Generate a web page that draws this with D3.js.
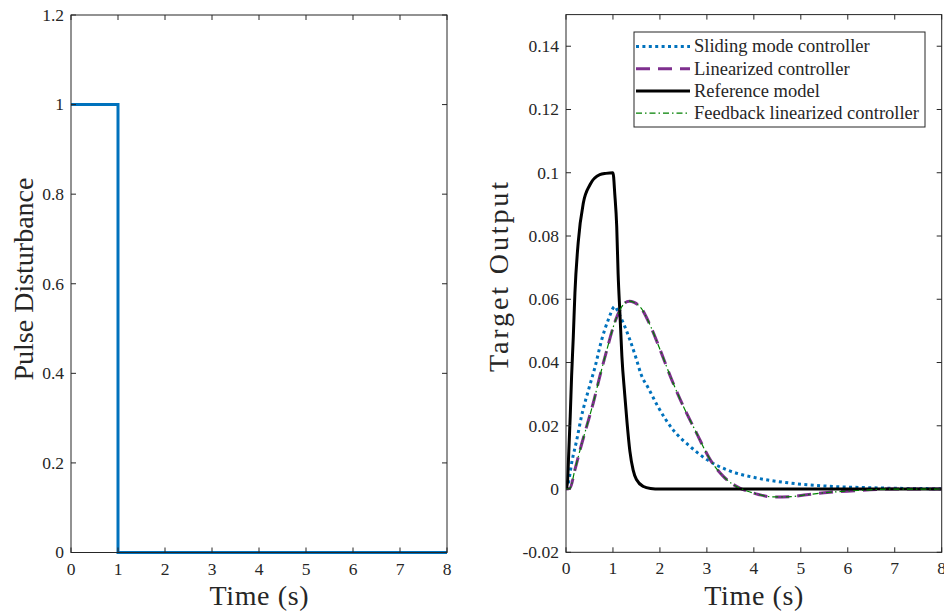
<!DOCTYPE html>
<html>
<head>
<meta charset="utf-8">
<script src="https://cdn.jsdelivr.net/npm/d3@7"></script>
<style>
  body { margin: 0; background: #fff; }
  text { font-family: "Liberation Serif", "Times New Roman", serif; fill: #262626; }
</style>
</head>
<body>
<svg id="chart" width="944" height="615"></svg>
<script>
// ---- data ----
const pulse_t = [0, 1, 1, 8];
const pulse_v = [1, 1, 0, 0];

const sliding_t = [0, 0.05, 0.12, 0.23, 0.33, 0.48, 0.62, 0.76, 0.9, 1.04, 1.12, 1.22, 1.36, 1.5, 1.6, 1.75, 1.96, 2.28, 2.64, 3.0, 3.42, 4.06, 4.77, 5.47, 6.5, 8];
const sliding_v = [0, 0.0019, 0.0082, 0.0156, 0.023, 0.0314, 0.0387, 0.0472, 0.0535, 0.0577, 0.0556, 0.0525, 0.0472, 0.041, 0.0362, 0.032, 0.026, 0.0187, 0.0135, 0.0093, 0.0061, 0.0035, 0.0019, 0.001, 0.0004, 0.0001];

const lin_t = [0, 0.085, 0.19, 0.3, 0.44, 0.58, 0.72, 0.87, 1.01, 1.15, 1.25, 1.35, 1.45, 1.6, 1.8, 2.0, 2.25, 2.5, 2.78, 3.07, 3.35, 3.7, 3.85, 4.1, 4.41, 4.8, 5.12, 5.5, 5.83, 6.3, 6.9, 8];
const lin_v = [0, 0.0003, 0.0061, 0.0124, 0.0198, 0.0272, 0.0356, 0.044, 0.0514, 0.0567, 0.0588, 0.0594, 0.059, 0.0572, 0.0515, 0.0442, 0.0346, 0.0261, 0.0177, 0.0093, 0.004, 0.0003, -0.0006, -0.0017, -0.0025, -0.0024, -0.0018, -0.0012, -0.0008, -0.0004, 0, 0];

const ref_t = [0, 0.03, 0.06, 0.09, 0.12, 0.155, 0.19, 0.26, 0.37, 0.51, 0.72, 0.85, 1.0, 1.04, 1.08, 1.11, 1.15, 1.19, 1.25, 1.3, 1.36, 1.43, 1.5, 1.65, 1.8, 2.0, 8];
const ref_v = [0, 0.002, 0.012, 0.023, 0.036, 0.048, 0.062, 0.078, 0.0905, 0.0962, 0.0994, 0.0998, 0.1, 0.093, 0.083, 0.068, 0.055, 0.042, 0.03, 0.021, 0.012, 0.006, 0.003, 0.0008, 0.0002, 0, 0];

const fb_t = [0, 0.085, 0.19, 0.3, 0.44, 0.58, 0.72, 0.87, 1.01, 1.15, 1.25, 1.35, 1.45, 1.6, 1.8, 2.0, 2.25, 2.5, 2.78, 3.07, 3.35, 3.7, 3.85, 4.1, 4.41, 4.8, 5.12, 5.5, 5.83, 6.3, 6.9, 8];
const fb_v = [0, 0.0003, 0.0061, 0.0124, 0.0198, 0.0272, 0.0356, 0.044, 0.0514, 0.0567, 0.0588, 0.0594, 0.059, 0.0572, 0.0515, 0.0442, 0.0346, 0.0261, 0.0177, 0.0093, 0.004, 0.0003, -0.0006, -0.0017, -0.0025, -0.0024, -0.0018, -0.0012, -0.0008, -0.0004, 0, 0];

const x_ticks = [0, 1, 2, 3, 4, 5, 6, 7, 8];
const left_y_ticks = [0, 0.2, 0.4, 0.6, 0.8, 1, 1.2];
const left_y_labels = ["0", "0.2", "0.4", "0.6", "0.8", "1", "1.2"];
const right_y_ticks = [-0.02, 0, 0.02, 0.04, 0.06, 0.08, 0.1, 0.12, 0.14];
const right_y_labels = ["-0.02", "0", "0.02", "0.04", "0.06", "0.08", "0.1", "0.12", "0.14"];

const legend_names = ["Sliding mode controller", "Linearized controller", "Reference model", "Feedback linearized controller"];

// ---- drawing ----
const svg = d3.select("#chart");
const axis_col = "#262626";

function zip(t, v) { return t.map((d, i) => ({ t: d, v: v[i] })); }

function draw_axes(g, x, y, yticks, ylabels) {
    const [x0, x1] = x.range();
    const [y0, y1] = y.range();
    // box
    g.append("rect")
        .attr("x", x0).attr("y", y1)
        .attr("width", x1 - x0).attr("height", y0 - y1)
        .attr("fill", "none").attr("stroke", axis_col).attr("stroke-width", 1);
    // x ticks bottom + top
    x_ticks.forEach(function (d) {
        g.append("line").attr("x1", x(d)).attr("x2", x(d)).attr("y1", y0).attr("y2", y0 - 5)
            .attr("stroke", axis_col);
        g.append("line").attr("x1", x(d)).attr("x2", x(d)).attr("y1", y1).attr("y2", y1 + 5)
            .attr("stroke", axis_col);
        g.append("text").attr("x", x(d)).attr("y", y0 + 22)
            .attr("text-anchor", "middle").style("font-size", "17.5px").text(d);
    });
    yticks.forEach(function (d, i) {
        g.append("line").attr("x1", x0).attr("x2", x0 + 5).attr("y1", y(d)).attr("y2", y(d))
            .attr("stroke", axis_col);
        g.append("line").attr("x1", x1).attr("x2", x1 - 5).attr("y1", y(d)).attr("y2", y(d))
            .attr("stroke", axis_col);
        g.append("text").attr("x", x0 - 7).attr("y", y(d)).attr("dy", "0.33em")
            .attr("text-anchor", "end").style("font-size", "17.5px").text(ylabels[i]);
    });
    g.append("text")
        .attr("x", (x0 + x1) / 2).attr("y", 605)
        .attr("text-anchor", "middle").style("font-size", "28px")
        .attr("textLength", 99).attr("lengthAdjust", "spacing")
        .text("Time (s)");
}

// left panel
const xl = d3.scaleLinear().domain([0, 8]).range([71, 447]);
const yl = d3.scaleLinear().domain([0, 1.2]).range([552.5, 15]);
const gl = svg.append("g");

gl.append("path")
    .datum(zip(pulse_t, pulse_v))
    .attr("d", d3.line().x(d => xl(d.t)).y(d => yl(d.v)))
    .attr("fill", "none").attr("stroke", "#0072BD").attr("stroke-width", 3);

draw_axes(gl, xl, yl, left_y_ticks, left_y_labels);

gl.append("text")
    .attr("transform", "translate(33,279) rotate(-90)")
    .attr("text-anchor", "middle").style("font-size", "28px")
    .attr("textLength", 203).attr("lengthAdjust", "spacing")
    .text("Pulse Disturbance");

// right panel
const xr = d3.scaleLinear().domain([0, 8]).range([566, 941.7]);
const yr = d3.scaleLinear().domain([-0.02, 0.15]).range([552.3, 14.6]);
const gr = svg.append("g");

svg.append("clipPath").attr("id", "clip_r")
    .append("rect").attr("x", 566).attr("y", 14.6).attr("width", 941.7 - 566).attr("height", 552.3 - 14.6);

const line_r = d3.line().curve(d3.curveMonotoneX).x(d => xr(d.t)).y(d => yr(d.v));

const series = [
    { data: zip(sliding_t, sliding_v), color: "#0072BD", width: 3, dash: "3,3.4" },
    { data: zip(lin_t, lin_v), color: "#7E2F8E", width: 3, dash: "14,8" },
    { data: zip(ref_t, ref_v), color: "#000000", width: 3, dash: null },
    { data: zip(fb_t, fb_v), color: "#008000", width: 1.2, dash: "6,3,1.5,3" }
];

const plot_g = gr.append("g").attr("clip-path", "url(#clip_r)");
series.forEach(function (s) {
    plot_g.append("path")
        .datum(s.data)
        .attr("d", line_r)
        .attr("fill", "none")
        .attr("stroke", s.color)
        .attr("stroke-width", s.width)
        .attr("stroke-dasharray", s.dash);
});

draw_axes(gr, xr, yr, right_y_ticks, right_y_labels);

gr.append("text")
    .attr("transform", "translate(508,277) rotate(-90)")
    .attr("text-anchor", "middle").style("font-size", "28px")
    .attr("textLength", 190).attr("lengthAdjust", "spacing")
    .text("Target Output");

// legend
const lg = gr.append("g");
lg.append("rect")
    .attr("x", 634).attr("y", 32).attr("width", 291).attr("height", 95)
    .attr("fill", "#fff").attr("stroke", axis_col).attr("stroke-width", 1);
legend_names.forEach(function (name, i) {
    const cy = 46.5 + i * 22.2;
    const s = series[i];
    lg.append("line")
        .attr("x1", 636).attr("x2", 690).attr("y1", cy).attr("y2", cy)
        .attr("stroke", s.color).attr("stroke-width", s.width)
        .attr("stroke-dasharray", s.dash);
    lg.append("text")
        .attr("x", 694).attr("y", cy).attr("dy", "0.32em")
        .style("font-size", "18.5px")
        .text(name);
});
</script>
</body>
</html>
